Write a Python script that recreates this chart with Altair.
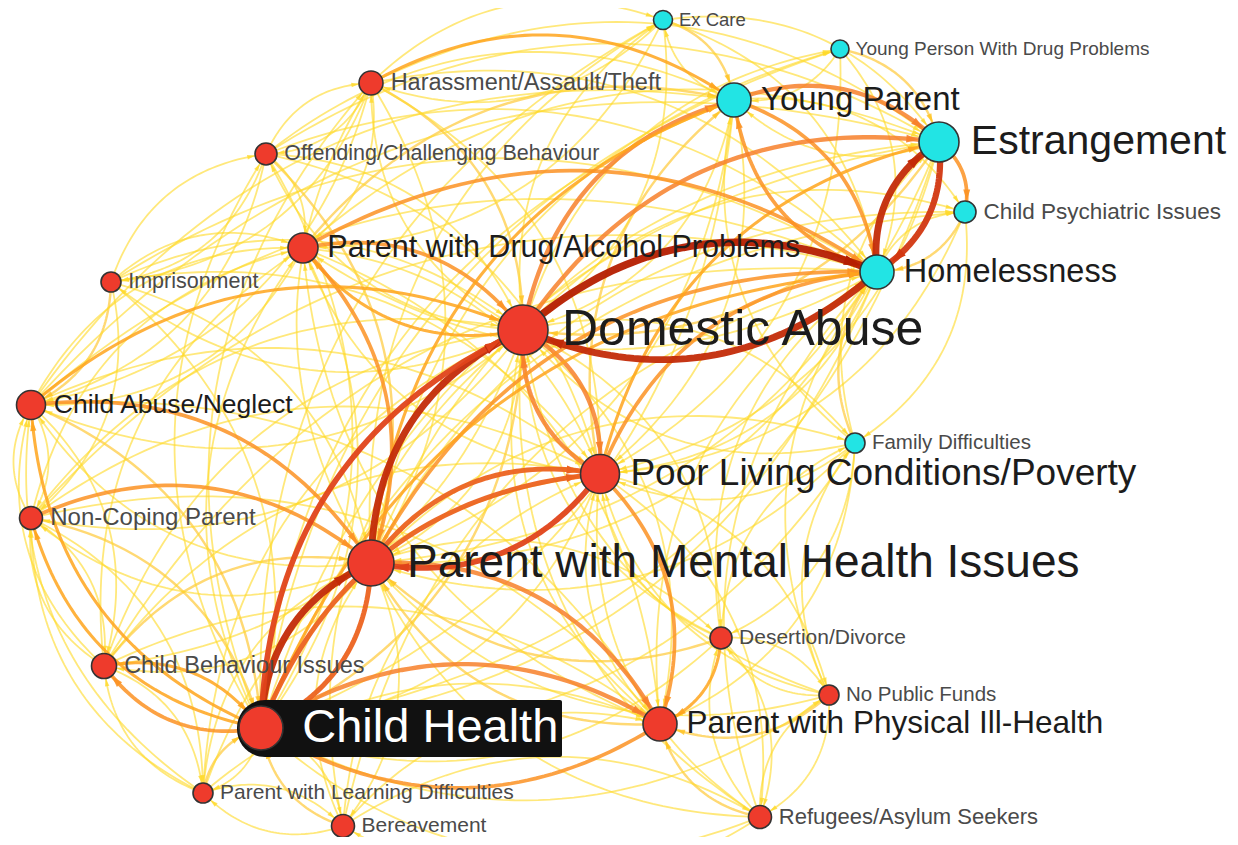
import math
import altair as alt
import pandas as pd

# ---------------- nodes ----------------
node_keys = ["EC", "YPD", "HAT", "YP", "EST", "OCB", "CPI", "PDA", "HOM", "IMP", "DA", "CAN",
             "FD", "PLC", "NCP", "PMH", "DD", "CBI", "NPF", "CH", "PPH", "PLD", "BER", "RAS"]
node_labels = ["Ex Care", "Young Person With Drug Problems", "Harassment/Assault/Theft", "Young Parent",
               "Estrangement", "Offending/Challenging Behaviour", "Child Psychiatric Issues",
               "Parent with Drug/Alcohol Problems", "Homelessness", "Imprisonment", "Domestic Abuse",
               "Child Abuse/Neglect", "Family Difficulties", "Poor Living Conditions/Poverty",
               "Non-Coping Parent", "Parent with Mental Health Issues", "Desertion/Divorce",
               "Child Behaviour Issues", "No Public Funds", "Child Health",
               "Parent with Physical Ill-Health", "Parent with Learning Difficulties", "Bereavement",
               "Refugees/Asylum Seekers"]
node_x = [663, 840, 371, 734, 939, 266, 965, 303, 877, 111, 523, 31,
          855, 600, 31, 371, 721, 104, 829, 261, 660, 203, 343, 760]
node_y = [20, 49, 83, 100, 142, 154, 212, 248, 272, 282, 330, 405,
          443, 474, 518, 563, 638, 666, 695, 728, 724, 793, 826, 817]
node_r = [9.5, 9, 12, 17, 20, 11, 11, 15, 17, 10, 25, 14.5,
          10, 19.5, 11.5, 23, 11, 12.5, 10, 22, 17, 10, 11.5, 11.5]
node_kind = ["young", "young", "family", "young", "young", "family", "young", "family", "young",
             "family", "family", "family", "young", "family", "family", "family", "family", "family",
             "family", "family", "family", "family", "family", "family"]
label_size = [18.5, 19, 23.5, 33, 41, 21.5, 22.5, 30.5, 32.5, 21.5, 50, 26.5,
              20.5, 37, 24, 46, 21, 23.5, 20.5, 47, 31.5, 21, 21, 22]

# ---------------- edges ----------------
strong_edges = [
    ("DA", "HOM", 10), ("HOM", "DA", 9), ("HOM", "EST", 9), ("EST", "HOM", 8),
    ("CH", "PMH", 9), ("PMH", "DA", 9), ("CH", "DA", 7), ("PMH", "CH", 6),
    ("PLC", "PMH", 7), ("PMH", "PLC", 6), ("DA", "PLC", 5), ("PLC", "DA", 5),
    ("CH", "PLC", 6), ("PMH", "PPH", 5), ("CH", "PPH", 5), ("PPH", "CH", 4),
    ("DA", "YP", 5), ("YP", "EST", 5), ("EST", "CPI", 4), ("PDA", "DA", 4),
    ("DA", "PDA", 3), ("CH", "CBI", 4), ("CBI", "CH", 3), ("PDA", "PMH", 4),
    ("CAN", "PMH", 4), ("NCP", "PMH", 4), ("HOM", "YP", 4), ("YP", "HOM", 4),
    ("PLC", "HOM", 4), ("DA", "EST", 5), ("PMH", "HOM", 4), ("CH", "HOM", 3),
    ("PLC", "PPH", 4), ("DD", "PPH", 3), ("HAT", "YP", 3), ("PMH", "YP", 3),
    ("PLC", "EST", 3), ("CH", "CAN", 3), ("CAN", "DA", 3), ("PDA", "HOM", 4),
    ("CH", "NCP", 3),
]
medium_edges = [
    ("HAT", "DA"), ("OCB", "PMH"), ("IMP", "CAN"), ("CAN", "CH"), ("CBI", "PMH"),
    ("NCP", "CH"), ("FD", "HOM"), ("DD", "PMH"), ("NPF", "PPH"), ("RAS", "PPH"),
    ("PLD", "CH"), ("BER", "CH"), ("CPI", "HOM"), ("YPD", "EST"), ("EC", "YP"),
    ("PDA", "YP"), ("PLC", "YP"), ("EST", "DA"), ("PPH", "PMH"), ("DA", "CH"),
]
weak_edges = [
    ("EC", "EST"), ("EC", "DA"), ("EC", "HOM"), ("EC", "HAT"), ("EC", "PDA"), ("DA", "EC"),
    ("PMH", "EC"), ("CH", "EC"), ("YP", "EC"),
    ("YPD", "HOM"), ("YPD", "YP"), ("DA", "YPD"), ("PMH", "YPD"), ("YPD", "PLC"), ("CH", "YPD"),
    ("HAT", "EST"), ("HAT", "PMH"), ("HAT", "PDA"), ("HAT", "OCB"), ("HAT", "CAN"),
    ("HAT", "HOM"), ("DA", "HAT"), ("PMH", "HAT"), ("CH", "HAT"), ("HAT", "IMP"), ("HAT", "PLC"),
    ("HAT", "EC"),
    ("OCB", "DA"), ("OCB", "CH"), ("OCB", "PDA"), ("OCB", "HAT"), ("OCB", "CAN"), ("OCB", "IMP"),
    ("OCB", "YP"), ("DA", "OCB"), ("CH", "OCB"), ("OCB", "HOM"), ("OCB", "EST"), ("OCB", "PLC"),
    ("HOM", "CPI"), ("DA", "CPI"), ("PMH", "CPI"), ("CH", "CPI"), ("YP", "CPI"), ("CPI", "PLC"),
    ("CPI", "FD"),
    ("IMP", "DA"), ("IMP", "PMH"), ("IMP", "PDA"), ("IMP", "CH"), ("IMP", "OCB"), ("IMP", "NCP"),
    ("DA", "IMP"), ("IMP", "PLC"), ("IMP", "HOM"),
    ("FD", "DA"), ("FD", "PLC"), ("FD", "PMH"), ("FD", "EST"), ("FD", "YP"), ("FD", "CH"),
    ("FD", "PPH"), ("DA", "FD"), ("PMH", "FD"), ("FD", "DD"),
    ("NCP", "DA"), ("NCP", "CAN"), ("NCP", "CBI"), ("NCP", "PDA"), ("NCP", "PLC"), ("NCP", "PPH"),
    ("DA", "NCP"), ("PMH", "NCP"), ("NCP", "HOM"), ("NCP", "PLD"),
    ("DD", "DA"), ("DD", "PLC"), ("DD", "CH"), ("DD", "NPF"), ("DD", "HOM"), ("PMH", "DD"),
    ("DA", "DD"), ("DD", "FD"), ("DD", "RAS"),
    ("CBI", "DA"), ("CBI", "CAN"), ("CBI", "NCP"), ("CBI", "PLD"), ("CBI", "PDA"), ("PMH", "CBI"),
    ("DA", "CBI"), ("CBI", "PLC"), ("CBI", "PPH"), ("CBI", "HOM"),
    ("NPF", "PLC"), ("NPF", "DA"), ("NPF", "HOM"), ("NPF", "RAS"), ("NPF", "DD"), ("NPF", "PMH"),
    ("PLC", "NPF"), ("NPF", "FD"), ("NPF", "CH"),
    ("PLD", "PMH"), ("PLD", "DA"), ("PLD", "CBI"), ("PLD", "BER"), ("PLD", "NCP"), ("PLD", "CAN"),
    ("PLD", "PLC"), ("CH", "PLD"), ("PLD", "PPH"),
    ("BER", "PMH"), ("BER", "DA"), ("BER", "PPH"), ("BER", "PLD"), ("BER", "PLC"), ("BER", "RAS"),
    ("CH", "BER"), ("PMH", "BER"), ("BER", "HOM"),
    ("RAS", "PLC"), ("RAS", "DA"), ("RAS", "NPF"), ("RAS", "HOM"), ("RAS", "PMH"), ("RAS", "CH"),
    ("RAS", "DD"), ("PLC", "RAS"), ("RAS", "BER"),
    ("CAN", "PDA"), ("CAN", "PLC"), ("CAN", "HOM"), ("CAN", "EST"), ("CAN", "YP"), ("CAN", "NCP"),
    ("CAN", "CBI"), ("CAN", "PPH"), ("DA", "CAN"), ("PMH", "CAN"),
    ("PDA", "CH"), ("PDA", "PLC"), ("PDA", "EST"), ("PDA", "CAN"), ("PDA", "PPH"),
    ("PLC", "CH"), ("PLC", "PDA"), ("HOM", "PLC"), ("HOM", "PMH"), ("HOM", "CH"),
    ("EST", "YP"), ("EST", "PLC"), ("YP", "DA"), ("YP", "PMH"), ("YP", "CH"), ("YP", "PLC"),
    ("PPH", "DA"), ("PPH", "PLC"), ("PPH", "HOM"), ("DA", "PPH"), ("DA", "PMH"),
    ("PMH", "EST"), ("CH", "EST"), ("CH", "YP"), ("CH", "PDA"), ("HOM", "PDA"), ("PPH", "PDA"),
    ("EST", "PMH"), ("EST", "CH"),
]

# ---------------- build tables ----------------
pos = {k: (x, y, r) for k, x, y, r in zip(node_keys, node_x, node_y, node_r)}

edges = list(strong_edges)
seen = {(s, t) for s, t, _ in edges}
for s, t in medium_edges:
    if (s, t) not in seen:
        edges.append((s, t, 2)); seen.add((s, t))
for s, t in weak_edges:
    if (s, t) not in seen:
        edges.append((s, t, 1)); seen.add((s, t))

K = 0.31
N = 48
line_rows, arrow_rows = [], []
for i, (s, t, w) in enumerate(edges):
    x0, y0, _ = pos[s]
    x1, y1, r1 = pos[t]
    dx, dy = x1 - x0, y1 - y0
    cx = (x0 + x1) / 2 + K * dy
    cy = (y0 + y1) / 2 - K * dx
    tier = "strong" if w >= 6 else ("mid" if w >= 3 else "weak")
    for j in range(N + 1):
        u = j / N
        bx = (1 - u) ** 2 * x0 + 2 * (1 - u) * u * cx + u * u * x1
        by = (1 - u) ** 2 * y0 + 2 * (1 - u) * u * cy + u * u * y1
        line_rows.append({"edge": i, "ord": j, "x": bx, "y": by, "w": w, "tier": tier})
    asize = 30 + 26 * w
    half = math.sqrt(asize) / 2
    need = r1 + half
    u = 1.0
    for j in range(400, -1, -1):
        u = j / 400
        bx = (1 - u) ** 2 * x0 + 2 * (1 - u) * u * cx + u * u * x1
        by = (1 - u) ** 2 * y0 + 2 * (1 - u) * u * cy + u * u * y1
        if math.hypot(bx - x1, by - y1) >= need:
            break
    tx = 2 * (1 - u) * (cx - x0) + 2 * u * (x1 - cx)
    ty = 2 * (1 - u) * (cy - y0) + 2 * u * (y1 - cy)
    ang = math.degrees(math.atan2(tx, -ty)) % 360
    arrow_rows.append({"x": bx, "y": by, "w": w, "angle": ang, "asize": asize, "tier": tier})

lines = pd.DataFrame(line_rows)
arrows = pd.DataFrame(arrow_rows)

nodes = pd.DataFrame({
    "key": node_keys, "label": node_labels, "x": node_x, "y": node_y, "r": node_r,
    "kind": node_kind, "fs": label_size,
})
nodes["size"] = (2 * nodes["r"]) ** 2
nodes["lx"] = nodes["x"] + nodes["r"] + 0.24 * nodes["fs"] + 2
nodes.loc[nodes["key"] == "CH", "lx"] += 6
nodes["tcolor"] = ["#ffffff" if k == "CH" else ("#1c1c1c" if f >= 26 else "#4a4a4a")
                   for k, f in zip(nodes["key"], nodes["fs"])]

highlight = nodes[nodes["key"] == "CH"].copy()
highlight["bx"] = highlight["x"] - highlight["r"] - 2
highlight["bx2"] = highlight["x"] + 301
highlight["by"] = highlight["y"] - 28
highlight["by2"] = highlight["y"] + 29

# ---------------- chart ----------------
XS = alt.Scale(domain=[8, 1230], nice=False, zero=False)
YS = alt.Scale(domain=[8, 837], nice=False, zero=False, reverse=True)
col_scale = alt.Scale(domain=[1, 2, 3, 5, 7, 10],
                      range=["#FFDA2A", "#FFC21E", "#FFA41C", "#F7802A", "#E0431A", "#B51E00"])
wid_scale = alt.Scale(domain=[1, 10], range=[1.8, 7.5])


def edge_layer(tier, opacity):
    return alt.Chart(lines[lines["tier"] == tier]).mark_line(opacity=opacity, strokeCap="round").encode(
        x=alt.X("x:Q", scale=XS, axis=None),
        y=alt.Y("y:Q", scale=YS, axis=None),
        detail="edge:N",
        order="ord:Q",
        color=alt.Color("w:Q", scale=col_scale, legend=None),
        strokeWidth=alt.StrokeWidth("w:Q", scale=wid_scale, legend=None),
    )


def arrow_layer(tier, opacity):
    return alt.Chart(arrows[arrows["tier"] == tier]).mark_point(
        shape="M0,-1L0.6,1L-0.6,1Z", filled=True, opacity=opacity, strokeWidth=0
    ).encode(
        x=alt.X("x:Q", scale=XS, axis=None),
        y=alt.Y("y:Q", scale=YS, axis=None),
        angle=alt.Angle("angle:Q", scale=None),
        size=alt.Size("asize:Q", scale=None),
        color=alt.Color("w:Q", scale=col_scale, legend=None),
    )


box = alt.Chart(highlight).mark_rect(
    color="#111111", cornerRadiusTopLeft=28, cornerRadiusBottomLeft=28,
    cornerRadiusTopRight=2, cornerRadiusBottomRight=2
).encode(
    x=alt.X("bx:Q", scale=XS, axis=None), x2="bx2:Q",
    y=alt.Y("by:Q", scale=YS, axis=None), y2="by2:Q",
)

circles = alt.Chart(nodes).mark_circle(opacity=1, stroke="#333333", strokeWidth=1.6).encode(
    x=alt.X("x:Q", scale=XS, axis=None),
    y=alt.Y("y:Q", scale=YS, axis=None),
    size=alt.Size("size:Q", scale=None),
    color=alt.Color("kind:N", scale=alt.Scale(domain=["family", "young"],
                                              range=["#EE3B2C", "#22E4E4"]), legend=None),
)

labels = alt.Chart(nodes).mark_text(align="left", baseline="middle", font="Liberation Sans").encode(
    x=alt.X("lx:Q", scale=XS, axis=None),
    y=alt.Y("y:Q", scale=YS, axis=None),
    text="label:N",
    size=alt.Size("fs:Q", scale=None),
    color=alt.Color("tcolor:N", scale=None),
)

chart = alt.layer(
    edge_layer("weak", 0.62), arrow_layer("weak", 0.8),
    edge_layer("mid", 0.85), arrow_layer("mid", 0.9),
    edge_layer("strong", 0.95), arrow_layer("strong", 1.0),
    box, circles, labels,
).properties(
    width=1222, height=829, padding=0, autosize="none", background="#ffffff"
).configure_view(stroke=None)

chart.save("out.html", embed_options={"renderer": "svg", "actions": False})
